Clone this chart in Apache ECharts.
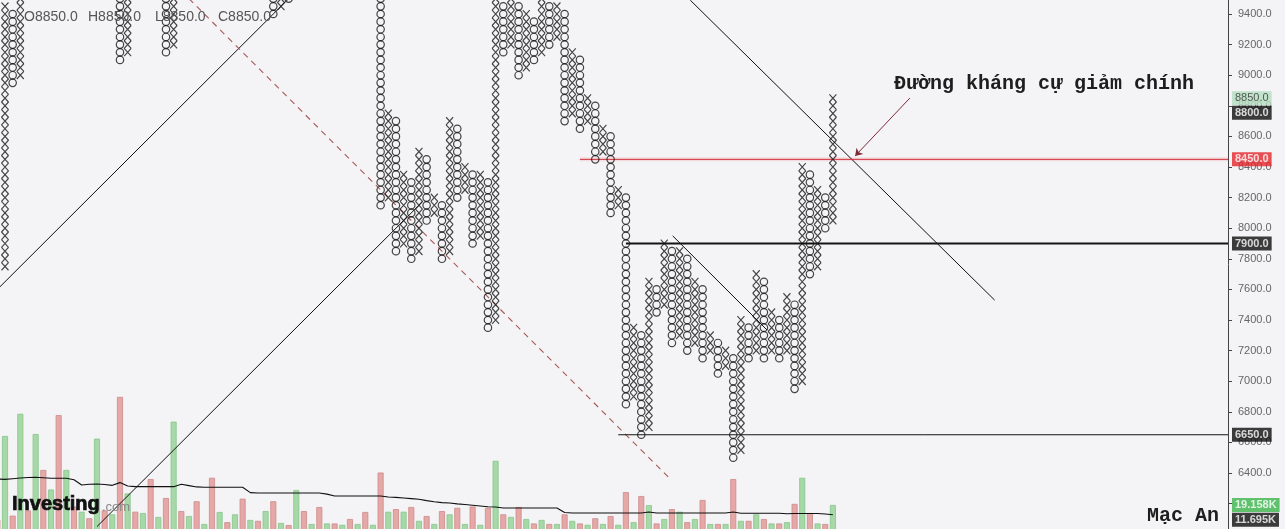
<!DOCTYPE html>
<html><head><meta charset="utf-8">
<script src="https://cdn.jsdelivr.net/npm/echarts/dist/echarts.min.js"></script>
<style>html,body{margin:0;padding:0;background:#f4f3f5;}#c{width:1285px;height:529px;}</style>
</head><body><div id="c"></div>
<script>
// ---- Point & Figure data (box size 50), columns k = -1 .. 108 ----
const BOX = 50;
const colType = [
 'O','X','O','X','O','X','O','X','O','X',
 'O','X','O','X','O','X','O','X','O','X',
 'O','X','O','X','O','X','O','X','O','X',
 'O','X','O','X','O','X','O','X','O','X',
 'O','X','O','X','O','X','O','X','O','X',
 'O','X','O','X','O','X','O','X','O','X',
 'O','X','O','X','O','X','O','X','O','X',
 'O','X','O','X','O','X','O','X','O','X',
 'O','X','O','X','O','X','O','X','O','X',
 'O','X','O','X','O','X','O','X','O','X',
 'O','X','O','X','O','X','O','X','O','X'
];
const colLow = [
 7700,7750,8950,9000,null,null,null,null,null,null,
 null,null,null,null,null,null,9100,9150,null,null,
 null,null,9150,9200,null,null,null,null,null,null,
 null,null,null,null,null,null,9400,9450,9500,null,
 null,null,null,null,null,null,null,null,null,null,
 8150,8200,7850,7900,7800,7850,8050,8100,7800,7850,
 8200,8250,7900,7950,7350,7400,9150,9200,9000,9050,
 9100,9150,9200,9250,8700,8750,8650,8700,8450,8500,
 8100,8150,6850,6900,6650,6700,7450,7500,7250,7300,
 7200,7250,7150,7200,7050,7100,6500,6550,7150,7200,
 7150,7200,7150,7200,6950,7000,7700,7750,8000,8050
];
const colHigh = [
 7950,9450,9400,9500,null,null,null,null,null,null,
 null,null,null,null,null,null,9500,9500,null,null,
 null,null,9500,9500,null,null,null,null,null,null,
 null,null,null,null,null,null,9500,9500,9500,null,
 null,null,null,null,null,null,null,null,null,null,
 9500,8750,8700,8350,8300,8500,8450,8200,8150,8700,
 8650,8400,8350,8350,8300,9500,9450,9500,9450,9400,
 9350,9500,9450,9450,9400,9150,9100,8850,8800,8650,
 8600,8250,8200,7350,7300,7650,7600,7900,7850,7850,
 7800,7650,7600,7300,7250,7200,7150,7400,7350,7700,
 7650,7450,7400,7550,7500,8400,8350,8250,8200,8850
];
const volume = [
 8000,72000,11000,89000,15000,73500,46000,31000,88000,46000,
 18000,14000,9000,70000,15000,12000,102000,28000,14000,13000,
 39000,10000,24500,83000,14500,10700,22000,4600,40000,13800,
 6000,12000,24000,7700,7000,14500,22000,5400,3800,30600,
 14500,4600,17600,5000,5000,4000,8400,4600,13800,4000,
 44000,14000,16000,14000,17600,7000,10700,4600,14500,12000,
 17000,4600,18000,4000,17000,53000,12000,10000,17600,8400,
 5000,7700,4600,4600,12000,7000,5000,4000,9000,4600,
 10700,4000,29000,6000,26000,19000,5000,8400,16000,14000,
 6000,8400,23000,4600,4600,4600,39000,7000,7000,12000,
 8400,5000,5000,6000,20000,40000,13000,5000,4600,19158
];
const volumeMA = [
 39100,38800,39300,39800,40200,40400,40000,39600,39600,39600,
 38500,34500,35000,35200,34800,34200,36300,33700,33200,33200,
 33200,33200,33200,33200,35000,34000,33000,32700,32700,32700,
 32700,32700,32700,28600,28300,28300,28300,28300,28300,28300,
 28300,28300,28300,27500,26000,26000,26000,26000,26000,26000,
 26000,25300,25000,24500,24000,23500,22500,21700,21000,20700,
 20000,19500,19000,18400,17800,17600,16900,16900,16900,16900,
 16900,16900,16900,16900,13400,13000,13000,13000,13000,13000,
 13000,13000,13000,13000,13000,13800,13000,13000,13000,13000,
 13000,13000,13000,13000,13000,13000,13800,12800,12800,12800,
 12800,12800,12800,12400,12600,12600,12600,12600,12300,11695
];
const FIRST_COL = -1;
const colIndex = colType.map((t, i) => FIRST_COL + i);

// trend lines, [column, price]
const trendUpA = [[-1, 7600], [37, 9500]];
const trendUpB = [[12, 6050], [54.5, 8175]];
const trendDownDashed = [[24, 9500], [86.7, 6365]];
const trendDownMain = [[89.4, 9490], [129.1, 7530]];
const trendDownShort = [[87.1, 7950], [99.4, 7335]];
const levelRed = {start: 75, price: 8450};
const levelThick = {start: 81, price: 7900};
const levelLow = {start: 80, price: 6650};
const arrowLine = [[118.05, 8851], [110.9, 8472]];
const priceTags = [8850, 8800, 8450, 7900, 6650];
const volTags = [19158, 11695];
const ohlc = ['O8850.0', 'H8850.0', 'L8850.0', 'C8850.0'];

// ---- build ----
const X_MIN = -0.652, X_MAX = 159.54;
const xBoxes = [], oBoxes = [];
colType.forEach((t, i) => {
  const lo = colLow[i], hi = colHigh[i];
  if (lo == null) return;
  for (let p = lo; p <= hi; p += BOX) (t === 'X' ? xBoxes : oBoxes).push([colIndex[i], p]);
});
const green = {color: '#a6d9a7', borderColor: '#87c58a', borderWidth: 0.8};
const red = {color: '#e6a7a7', borderColor: '#cc8b8b', borderWidth: 0.8};
const volData = volume.map((v, i) => ({value: [colIndex[i], v], itemStyle: colType[i] === 'X' ? green : red}));
const maData = volumeMA.map((v, i) => [colIndex[i], v]);

function seg(data, ls, z) {
  return {type: 'line', xAxisIndex: 0, yAxisIndex: 0, data: data, symbol: 'none', silent: true,
    lineStyle: ls, z: z || 3};
}
const tagBase = {show: true, position: 'right', distance: 4, fontFamily: 'Liberation Sans', fontSize: 11,
  fontWeight: 'bold', padding: [2, 3, 1, 3], color: '#fff', backgroundColor: '#0c0c0c'};
const tagStyles = {
  8850: {backgroundColor: '#b4dfc1', color: '#333', fontWeight: 'normal'},
  8800: {offset: [0, 7]},
  8450: {backgroundColor: '#e4252b'},
  7900: {},
  6650: {}
};
const volTagStyles = {19158: {backgroundColor: '#3bb44b'}, 11695: {offset: [0, 5]}};

const monoFont = 'bold 20px "Liberation Mono", "DejaVu Sans Mono", monospace';
const ohlcX = [24, 88, 155, 218];

const option = {
  backgroundColor: '#f4f3f5',
  animation: false,
  grid: [
    {left: 0, right: 57, top: -1.3, height: 535.5, containLabel: false, outerBoundsMode: 'none'},
    {left: 0, right: 57, top: 386.4, height: 143.6, containLabel: false, outerBoundsMode: 'none'}
  ],
  xAxis: [
    {type: 'value', gridIndex: 0, min: X_MIN, max: X_MAX, show: false, axisLine: {onZero: false}},
    {type: 'value', gridIndex: 1, min: X_MIN, max: X_MAX, show: false, axisLine: {onZero: false}}
  ],
  yAxis: [
    {type: 'value', gridIndex: 0, position: 'right', min: 6000, max: 9500, interval: 200,
     axisLine: {show: true, onZero: false, lineStyle: {color: '#444', width: 1}},
     axisTick: {show: true, length: 4, lineStyle: {color: '#444'}},
     splitLine: {show: false},
     axisLabel: {margin: 10, color: '#666', fontSize: 11, fontFamily: 'Liberation Sans',
       formatter: v => (v >= 6400 && v <= 9400) ? v.toFixed(1) : ''}},
    {type: 'value', gridIndex: 1, min: 0, max: 110000, show: false, axisLine: {onZero: false}}
  ],
  graphic: [
    ...ohlc.map((t, i) => ({type: 'text', x: ohlcX[i], y: 17, silent: true, z: 20,
      style: {text: t, font: '14px "Liberation Sans", Arial', fill: '#555', verticalAlign: 'middle'}})),
    {type: 'text', x: 894, y: 84, z: 20, silent: true,
     style: {text: 'Đường kháng cự giảm chính', font: monoFont, fill: '#1e1e1e', verticalAlign: 'middle'}},
    {type: 'text', x: 1147, y: 516, z: 20, silent: true,
     style: {text: 'Mạc An', font: monoFont, fill: '#1e1e1e', verticalAlign: 'middle'}},
    {type: 'text', x: 12, y: 504, z: 20, silent: true,
     style: {text: 'Investing', font: 'bold 20px "Liberation Sans", Arial', fill: '#111',
       stroke: '#111', lineWidth: 0.7, verticalAlign: 'middle'}},
    {type: 'text', x: 102, y: 507, z: 20, silent: true,
     style: {text: '.com', font: '13px "Liberation Sans", Arial', fill: '#888', verticalAlign: 'middle'}}
  ],
  series: [
    {type: 'bar', xAxisIndex: 1, yAxisIndex: 1, barWidth: 6, data: volData, silent: true, z: 1},
    {type: 'line', xAxisIndex: 1, yAxisIndex: 1, data: maData, symbol: 'none', silent: true,
     lineStyle: {color: '#111', width: 1.1}, z: 2},
    seg(trendUpA, {color: '#111', width: 1}),
    seg(trendUpB, {color: '#111', width: 1}),
    seg(trendDownDashed, {color: '#a85a5a', width: 1.1, type: [6, 5]}),
    seg(trendDownMain, {color: '#111', width: 1}),
    seg(trendDownShort, {color: '#111', width: 1}),
    seg([[levelRed.start, levelRed.price], [X_MAX, levelRed.price]], {color: 'rgba(240,150,160,0.25)', width: 4}, 2),
    seg([[levelRed.start, levelRed.price], [X_MAX, levelRed.price]], {color: '#d32f38', width: 1}),
    seg([[levelThick.start, levelThick.price], [X_MAX, levelThick.price]], {color: '#141414', width: 2}),
    seg([[levelLow.start, levelLow.price], [X_MAX, levelLow.price]], {color: '#141414', width: 1}),
    {type: 'lines', coordinateSystem: 'cartesian2d', xAxisIndex: 0, yAxisIndex: 0, silent: true, z: 4,
     symbol: ['none', 'arrow'], symbolSize: 7,
     lineStyle: {color: '#7d2b36', width: 1, opacity: 1},
     data: [{coords: arrowLine}]},
    {type: 'scatter', xAxisIndex: 0, yAxisIndex: 0, data: oBoxes, symbol: 'circle', symbolSize: [7.4, 7.4],
     large: false, silent: true, z: 5,
     itemStyle: {color: 'rgba(0,0,0,0)', borderColor: '#161616', borderWidth: 1.2}},
    {type: 'scatter', xAxisIndex: 0, yAxisIndex: 0, data: xBoxes, symbol: 'path://M0,0L10,10M10,0L0,10',
     symbolSize: [7, 7.65], large: false, silent: true, z: 5,
     itemStyle: {color: 'rgba(0,0,0,0)', borderColor: '#161616', borderWidth: 1.2}},
    {type: 'scatter', xAxisIndex: 0, yAxisIndex: 0, clip: false, symbolSize: 0, silent: true, z: 10,
     data: priceTags.map(p => ({value: [X_MAX, p],
       label: Object.assign({}, tagBase, tagStyles[p], {formatter: p.toFixed(1)})}))},
    {type: 'scatter', xAxisIndex: 1, yAxisIndex: 1, clip: false, symbolSize: 0, silent: true, z: 10,
     data: volTags.map(v => ({value: [X_MAX, v],
       label: Object.assign({}, tagBase, volTagStyles[v], {formatter: (v / 1000).toFixed(3) + 'K'})}))}
  ]
};
const chart = echarts.init(document.getElementById('c'));
chart.setOption(option);
</script></body></html>
